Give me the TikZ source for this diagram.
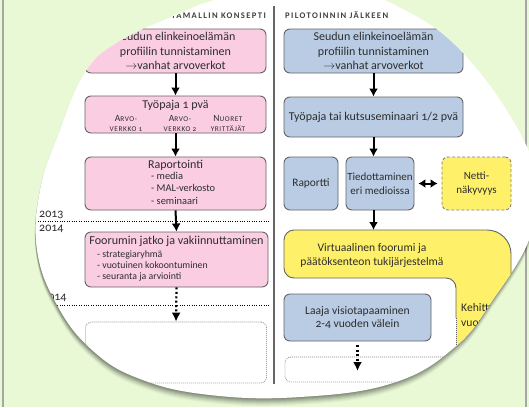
\documentclass[tikz,border=0pt]{standalone}
\usepackage{fontspec}
\setmainfont[Numbers=OldStyle]{Carlito}
\usetikzlibrary{arrows.meta}
\definecolor{bg}{RGB}{233,249,214}
\definecolor{pinkf}{RGB}{250,205,227}
\definecolor{bluef}{RGB}{185,204,228}
\definecolor{yelf}{RGB}{255,240,105}
\definecolor{bord}{RGB}{100,100,100}
\definecolor{txt}{RGB}{45,45,45}
\newcommand\fs[2]{\fontsize{#1}{#2}\selectfont}
\newcommand\smc[2]{{\fontsize{9.5}{10}\selectfont #1}{\fontsize{7.3}{10}\selectfont\addfontfeature{LetterSpace=8}#2}}
\begin{document}
\begin{tikzpicture}[x=1pt,y=-1pt,
  box/.style={draw=bord, line width=0.9pt, rounded corners=6pt, inner sep=0pt, text=txt, align=center},
  pinkbox/.style={box, fill=pinkf},
  bluebox/.style={box, fill=bluef},
  yelbox/.style={box, fill=yelf, draw=bord!80, densely dashed},
  dotbox/.style={draw=gray, line width=0.8pt, dash pattern=on 0.8pt off 1.2pt, rounded corners=6pt, inner sep=0pt},
  lbl/.style={text=txt, inner sep=0pt, align=center},
  arr/.style={line width=2pt, -{Latex[length=8pt,width=9pt]}},
  darr/.style={line width=2.2pt, dash pattern=on 2pt off 2.4pt, -{Latex[length=9pt,width=9pt]}},
  yearline/.style={line width=0.9pt, dash pattern=on 1pt off 1.4pt},
  hdr/.style={text=black!75, inner sep=0pt, font=\fs{8.6}{9}\bfseries\addfontfeature{LetterSpace=16}}
]
\useasboundingbox (0,0) rectangle (529,407);
\fill[bg] (0,0) rectangle (529,407);
\draw[black!35, line width=1.6pt] (3,0) -- (3,407) (526,0) -- (526,407);
% shadow of the curled sheet
\foreach \d/\o in {1/0.09,2/0.09,3/0.08,4/0.07,5/0.06,6/0.05,7/0.04,8/0.03}
  \fill[black, opacity=\o, shift={(-0.5,\d)}] plot[smooth cycle, tension=0.7] coordinates {(118,42) (176,15) (205,3) (245,-8) (290,-16) (340,-12) (395,5) (460,50) (520,133) (536,190) (529,240) (494,298) (455,347) (393,383) (300,397) (210,395) (140,379) (92,350) (57,305) (37,250) (40,190) (58,135) (84,74)};
\fill[white] plot[smooth cycle, tension=0.7] coordinates {(118,42) (176,15) (205,3) (245,-8) (290,-16) (340,-12) (395,5) (460,50) (520,133) (536,190) (529,240) (494,298) (455,347) (393,383) (300,397) (210,395) (140,379) (92,350) (57,305) (37,250) (40,190) (58,135) (84,74)};
\begin{scope}
\clip plot[smooth cycle, tension=0.7] coordinates {(118,42) (176,15) (205,3) (245,-8) (290,-16) (340,-12) (395,5) (460,50) (520,133) (536,190) (529,240) (494,298) (455,347) (393,383) (300,397) (210,395) (140,379) (92,350) (57,305) (37,250) (40,190) (58,135) (84,74)};
% headers
\node[hdr, anchor=base east] (hl) at (266,18) {TOIMINTAMALLIN KONSEPTI};
\node[hdr, anchor=base west] (hr) at (285,18) {PILOTOINNIN JÄLKEEN};
\draw[black!60, line width=1.1pt] (274,6) -- (274,384);
% year lines
\draw[yearline] (38,221) -- (270,221);
\draw[yearline] (38,305) -- (270,305);
\node[lbl, anchor=base west, font=\fs{12}{13}] (y13) at (39,217) {2013};
\node[lbl, anchor=base west, font=\fs{12}{13}] (y14) at (39,231) {2014};
\node[lbl, anchor=base west, font=\fs{12}{13}] (y14b) at (42,300) {2014};
% left column
\node[pinkbox, minimum width=181pt, minimum height=44pt, font=\fs{12}{14.5}] (p1) at (175.5,51)
  {Seudun elinkeinoelämän\\profiilin tunnistaminen\\$\rightarrow$vanhat arvoverkot};
\node[pinkbox, minimum width=181pt, minimum height=37pt] (p2) at (175.5,114.5) {};
\node[lbl, font=\fs{12}{13}] (p2t) at (175.5,105.5) {Työpaja 1 pvä};
\node[lbl, font=\fs{7.3}{10}] (c1) at (126,123.5) {\smc{A}{RVO-}\\\smc{}{VERKKO 1}};
\node[lbl, font=\fs{7.3}{10}] (c2) at (180,123.5) {\smc{A}{RVO-}\\\smc{}{VERKKO 2}};
\node[lbl, font=\fs{7.3}{10}] (c3) at (228,123.5) {\smc{N}{UORET}\\\smc{}{YRITTÄJÄT}};
\node[pinkbox, minimum width=181pt, minimum height=53pt] (p3) at (175.5,183.5) {};
\node[lbl, font=\fs{12}{13}] (p3t) at (175.5,165) {Raportointi};
\node[lbl, anchor=north west, align=left, font=\fs{10.4}{12.5}] (p3l) at (151,172) {- media\\- MAL-verkosto\\- seminaari};
\node[pinkbox, minimum width=183pt, minimum height=55pt] (p4) at (176.5,259.5) {};
\node[lbl, font=\fs{12.1}{13}] (p4t) at (176.5,241) {Foorumin jatko ja vakiinnuttaminen};
\node[lbl, anchor=north west, align=left, font=\fs{9.8}{11.2}] (p4l) at (97,250.5) {- strategiaryhmä\\- vuotuinen kokoontuminen\\- seuranta ja arviointi};
\node[dotbox, minimum width=181pt, minimum height=61pt] (p5) at (176,352.5) {};
\draw[arr] (p1.south) -- (p2.north);
\draw[arr] (p2.south) -- (p3.north);
\draw[arr] (p3.south) -- (p4.north);
\draw[darr] (p4.south) -- (p5.north);
% right column
\node[bluebox, minimum width=179pt, minimum height=44pt, font=\fs{12}{14.5}] (r1) at (373.5,51)
  {Seudun elinkeinoelämän\\profiilin tunnistaminen\\$\rightarrow$vanhat arvoverkot};
\node[bluebox, minimum width=179pt, minimum height=40pt, font=\fs{12}{13}] (r2) at (373.5,117)
  {Työpaja tai kutsuseminaari 1/2 pvä};
\node[bluebox, minimum width=54pt, minimum height=53pt, font=\fs{11.4}{13}] (rap) at (311,183.5) {Raportti};
\node[bluebox, minimum width=68pt, minimum height=53pt, font=\fs{11}{13.5}] (tied) at (380,183.5) {Tiedottaminen\\eri medioissa};
\node[yelbox, minimum width=69pt, minimum height=53pt, font=\fs{11}{13.5}] (netti) at (476.5,183.5) {Netti-\\näkyvyys};
\coordinate (ytop) at (373.5,230);
\fill[yelf] [rounded corners=10pt] (284,254) -- (284,230) -- (400,230) [rounded corners=24pt] -- (511,230) -- (511,300) [sharp corners] -- (511,420) -- (456,420) [rounded corners=10pt] -- (456,278) -- (284,278) -- cycle;
\draw[bord, line width=0.9pt] [rounded corners=10pt] (456,318) -- (456,278) -- (284,278) -- (284,230) -- (400,230) [rounded corners=24pt] -- (511,230) -- (511,300) [sharp corners] -- (511,420);
\draw[bord, line width=0.9pt, dash pattern=on 0.8pt off 1.2pt] (456,318) -- (456,420);
\node[lbl, font=\fs{11.6}{14.5}] (virt) at (372,255.5) {Virtuaalinen foorumi ja\\päätöksenteon tukijärjestelmä};
\node[lbl, anchor=west, align=left, font=\fs{11.6}{14.5}] (keh) at (461,315) {Kehittyvä\\vuorovaikutus};
\node[bluebox, minimum width=147pt, minimum height=47pt, font=\fs{11.6}{12.5}] (laaja) at (357.5,317.5) {Laaja visiotapaaminen\\2-4 vuoden välein};
\node[dotbox, minimum width=168pt, minimum height=25pt] (r5) at (369,369.5) {};
\draw[arr] (r1.south) -- (r2.north);
\draw[arr] (r2.south) -- (r2.south |- tied.north);
\draw[arr] (r2.south |- tied.south) -- (ytop);
\draw[line width=2pt, {Latex[length=7pt,width=9pt]}-{Latex[length=7pt,width=9pt]}] ([xshift=4pt]tied.east) -- ([xshift=-4pt]netti.west);
\coordinate (r5a) at (357.5,371);
\draw[darr] ([yshift=-4pt]laaja.south) -- (r5a);
\end{scope}
\end{tikzpicture}
\end{document}
